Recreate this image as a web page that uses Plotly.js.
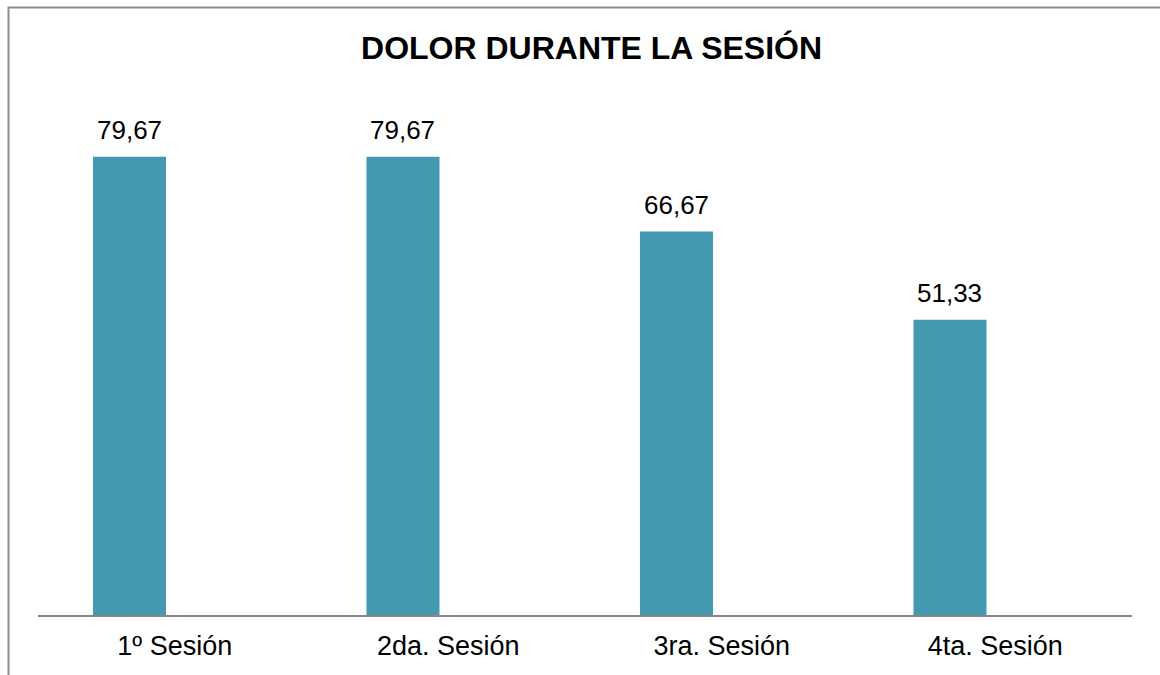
<!DOCTYPE html>
<html><head><meta charset="utf-8">
<script src="https://cdn.plot.ly/plotly-3.0.1.min.js"></script>
<style>body{margin:0;background:#fff}#chart{width:1160px;height:675px}</style>
</head><body><div id="chart"></div>
<script>
const categories = ['1º Sesión', '2da. Sesión', '3ra. Sesión', '4ta. Sesión'];
const values = [79.67, 79.67, 66.67, 51.33];
const labels = values.map(v => v.toFixed(2).replace('.', ','));

const FONT = 'Liberation Sans, Arial, sans-serif';
const BAR_WIDTH = 0.267;
const BAR_OFFSET = -0.299;

const trace = {
  type: 'bar', x: categories, y: values,
  width: BAR_WIDTH, offset: BAR_OFFSET,
  marker: {color: '#4399B0'},
  hoverinfo: 'x+y'
};

const annotations = categories.map((c, i) => ({
  x: c, y: values[i], xref: 'x', yref: 'y', text: labels[i],
  xshift: (BAR_OFFSET + BAR_WIDTH / 2) * 273.5,
  showarrow: false, yanchor: 'bottom', yshift: 10,
  font: {family: FONT, size: 26, color: '#000'}
}));

const layout = {
  width: 1160, height: 675,
  margin: {l: 38, r: 28, t: 98, b: 60},
  paper_bgcolor: '#fff', plot_bgcolor: '#fff',
  showlegend: false,
  separators: ',.',
  title: {text: '<b>DOLOR DURANTE LA SESIÓN</b>', font: {family: FONT, size: 32, color: '#000'},
    x: 0.506, xref: 'paper', y: 1 - 48/675, yanchor: 'middle'},
  xaxis: {showline: true, linecolor: '#868686', linewidth: 1.5, ticks: '', showgrid: false,
    range: [-0.5, 3.5],
    tickfont: {family: FONT, size: 27, color: '#000'}, ticklabelstandoff: 6, zeroline: false, fixedrange: true},
  yaxis: {range: [0, 89.9], visible: false, showgrid: false, zeroline: false, fixedrange: true},
  annotations: annotations,
  shapes: [{type: 'rect', xref: 'paper', yref: 'paper',
    x0: (8.5 - 38) / 1094, x1: 1.2, y0: -0.3, y1: (615 - 7.5) / 517,
    line: {color: '#8c8c8c', width: 2}, fillcolor: 'rgba(0,0,0,0)'}]
};

Plotly.newPlot('chart', [trace], layout, {displayModeBar: false, staticPlot: true});
</script></body></html>
